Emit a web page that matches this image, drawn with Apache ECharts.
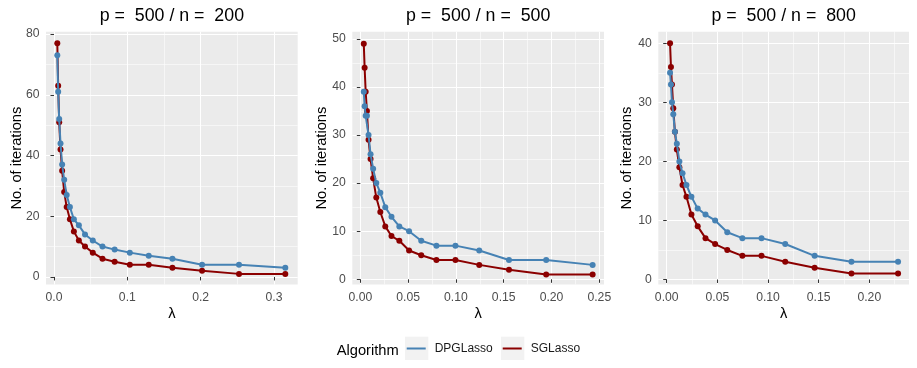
<!DOCTYPE html>
<html>
<head>
<meta charset="utf-8">
<script src="https://cdn.jsdelivr.net/npm/echarts@6/dist/echarts.min.js"></script>
<style>
html, body { margin: 0; padding: 0; background: #fff; }
#chart { width: 917px; height: 368px; }
</style>
</head>
<body>
<div id="chart"></div>
<script>
// lambda grid and iteration counts (one set per panel)
var lambda200 = [0.0045, 0.0057, 0.0071, 0.0089, 0.0111, 0.0139, 0.0173, 0.0217, 0.0271, 0.0339,
                 0.0423, 0.0529, 0.0661, 0.0827, 0.1034, 0.1292, 0.1615, 0.2019, 0.2523, 0.3154];
var dpg200 = [73, 61, 52, 44, 37, 32, 27, 23, 19, 17, 14, 12, 10, 9, 8, 7, 6, 4, 4, 3];
var sg200  = [77, 63, 51, 42, 35, 28, 23, 19, 15, 12, 10, 8, 6, 5, 4, 4, 3, 2, 1, 1];

var lambda500 = [0.0036, 0.0045, 0.0056, 0.0069, 0.0086, 0.0107, 0.0134, 0.0167, 0.0209, 0.0261,
                 0.0326, 0.0408, 0.0510, 0.0637, 0.0796, 0.0995, 0.1244, 0.1555, 0.1944, 0.2430];
var dpg500 = [39, 36, 34, 34, 30, 26, 23, 20, 18, 15, 13, 11, 10, 8, 7, 7, 6, 4, 4, 3];
var sg500  = [49, 44, 39, 35, 29, 25, 21, 17, 14, 11, 9, 8, 6, 5, 4, 4, 3, 2, 1, 1];

var lambda800 = [0.0033, 0.0042, 0.0052, 0.0065, 0.0081, 0.0100, 0.0125, 0.0156, 0.0195, 0.0244,
                 0.0306, 0.0383, 0.0478, 0.0598, 0.0747, 0.0936, 0.1170, 0.1460, 0.1824, 0.2284];
var dpg800 = [35, 33, 30, 28, 25, 23, 20, 18, 16, 14, 12, 11, 10, 8, 7, 7, 6, 4, 3, 3];
var sg800  = [40, 36, 33, 29, 25, 22, 19, 16, 14, 11, 9, 7, 6, 5, 4, 4, 3, 2, 1, 1];

var panelTitles = ['p =  500 / n =  200', 'p =  500 / n =  500', 'p =  500 / n =  800'];

var xBreaks200 = [0, 0.1, 0.2, 0.3];
var xMinor200 = [0.05, 0.15, 0.25];
var yBreaks200 = [0, 20, 40, 60, 80];
var yMinor200 = [10, 30, 50, 70];

var xBreaks500 = [0, 0.05, 0.10, 0.15, 0.20, 0.25];
var xMinor500 = [0.025, 0.075, 0.125, 0.175, 0.225];
var yBreaks500 = [0, 10, 20, 30, 40, 50];
var yMinor500 = [5, 15, 25, 35, 45];

var xBreaks800 = [0, 0.05, 0.10, 0.15, 0.20];
var xMinor800 = [0.025, 0.075, 0.125, 0.175, 0.225];
var yBreaks800 = [0, 10, 20, 30, 40];
var yMinor800 = [5, 15, 25, 35];

var FONT = '"Liberation Sans", Arial, sans-serif';
var BLUE = '#4682B4';
var RED = '#8B0000';

var panels = [
    { lam: lambda200, dpg: dpg200, sg: sg200, xb: xBreaks200, xm: xMinor200, yb: yBreaks200, ym: yMinor200,
      digits: 1, left: 46, width: 251.7, xMin: -0.0109, xMax: 0.3323, yMin: -2.5, yMax: 80.8, yTitleX: 17 },
    { lam: lambda500, dpg: dpg500, sg: sg500, xb: xBreaks500, xm: xMinor500, yb: yBreaks500, ym: yMinor500,
      digits: 2, left: 352.3, width: 251.7, xMin: -0.0084, xMax: 0.2549, yMin: -1.08, yMax: 51.48, yTitleX: 322 },
    { lam: lambda800, dpg: dpg800, sg: sg800, xb: xBreaks800, xm: xMinor800, yb: yBreaks800, ym: yMinor800,
      digits: 2, left: 658.3, width: 250.7, xMin: -0.0083, xMax: 0.2392, yMin: -0.85, yMax: 41.96, yTitleX: 627 }
];

var TOP = 31.7, HEIGHT = 252.8;

function pairs(xs, ys) {
    return xs.map(function(x, i) { return [x, ys[i]]; });
}

var grids = [], xAxes = [], yAxes = [], series = [], graphics = [];

panels.forEach(function(p, i) {
    grids.push({
        left: p.left, top: TOP, width: p.width, height: HEIGHT,
        show: true, backgroundColor: '#EBEBEB', borderWidth: 0, containLabel: false
    });

    var digits = p.digits;
    xAxes.push({
        type: 'value', gridIndex: i, min: p.xMin, max: p.xMax,
        axisLine: { show: false },
        axisTick: { show: true, length: 3.5, customValues: p.xb, lineStyle: { color: '#333333', width: 1 } },
        axisLabel: { customValues: p.xb, margin: 7.5, fontSize: 12.2, color: '#4D4D4D', fontFamily: FONT,
                     formatter: function(v) { return v.toFixed(digits); } },
        splitLine: { show: true, lineStyle: { color: '#FFFFFF', width: 1.1 } }
    });
    yAxes.push({
        type: 'value', gridIndex: i, min: p.yMin, max: p.yMax,
        axisLine: { show: false },
        axisTick: { show: true, length: 3.5, customValues: p.yb, lineStyle: { color: '#333333', width: 1 } },
        axisLabel: { customValues: p.yb, margin: 6.5, fontSize: 12.2, color: '#4D4D4D', fontFamily: FONT },
        splitLine: { show: true, lineStyle: { color: '#FFFFFF', width: 1.1 } }
    });

    series.push({
        name: 'SGLasso', type: 'line', xAxisIndex: i, yAxisIndex: i,
        data: pairs(p.lam, p.sg), symbol: 'circle', symbolSize: 6,
        lineStyle: { color: RED, width: 2 }, itemStyle: { color: RED }, z: 2
    });
    series.push({
        name: 'DPGLasso', type: 'line', xAxisIndex: i, yAxisIndex: i,
        data: pairs(p.lam, p.dpg), symbol: 'circle', symbolSize: 6,
        lineStyle: { color: BLUE, width: 2 }, itemStyle: { color: BLUE }, z: 3
    });

    var cx = p.left + p.width / 2;
    graphics.push({ type: 'text', x: cx, y: 16,
        style: { text: panelTitles[i], fontSize: 17.8, fontFamily: FONT, fill: '#000', align: 'center', verticalAlign: 'middle' } });
    graphics.push({ type: 'text', x: cx, y: 314,
        style: { text: 'λ', fontSize: 14.7, fontFamily: FONT, fill: '#000', align: 'center', verticalAlign: 'middle' } });
    graphics.push({ type: 'text', x: p.yTitleX, y: TOP + HEIGHT / 2, rotation: Math.PI / 2,
        style: { text: 'No. of iterations', fontSize: 14.7, fontFamily: FONT, fill: '#000', align: 'center', verticalAlign: 'middle' } });
});

// minor grid lines: a second, silent axis on each grid
panels.forEach(function(p, i) {
    xAxes.push({
        type: 'value', gridIndex: i, position: 'top', min: p.xMin, max: p.xMax,
        axisLine: { show: false }, axisLabel: { show: false },
        axisTick: { show: false, customValues: p.xm },
        splitLine: { show: true, lineStyle: { color: '#FFFFFF', width: 0.55 } }
    });
    yAxes.push({
        type: 'value', gridIndex: i, position: 'right', min: p.yMin, max: p.yMax,
        axisLine: { show: false }, axisLabel: { show: false },
        axisTick: { show: false, customValues: p.ym },
        splitLine: { show: true, lineStyle: { color: '#FFFFFF', width: 0.55 } }
    });
});

// legend: title and key backgrounds
graphics.push({ type: 'text', x: 336.7, y: 350.5,
    style: { text: 'Algorithm', fontSize: 14.7, fontFamily: FONT, fill: '#000', align: 'left', verticalAlign: 'middle' } });
graphics.push({ type: 'rect', shape: { x: 405, y: 336.7, width: 23.3, height: 23.3 }, style: { fill: '#F2F2F2' }, z: -1 });
graphics.push({ type: 'rect', shape: { x: 501, y: 336.7, width: 23.3, height: 23.3 }, style: { fill: '#F2F2F2' }, z: -1 });

function legendFor(name, left) {
    return {
        data: [name], left: left, top: 342.5, padding: 0, icon: 'rect',
        itemWidth: 19, itemHeight: 2, selectedMode: false,
        textStyle: { fontSize: 12, fontFamily: FONT, color: '#1A1A1A', padding: [0, 0, 0, 4] }
    };
}

var chart = echarts.init(document.getElementById('chart'), null, { renderer: 'canvas' });
chart.setOption({
    animation: false,
    backgroundColor: '#FFFFFF',
    grid: grids,
    xAxis: xAxes,
    yAxis: yAxes,
    legend: [legendFor('DPGLasso', 406.7), legendFor('SGLasso', 502.7)],
    graphic: graphics,
    series: series
});
</script>
</body>
</html>
